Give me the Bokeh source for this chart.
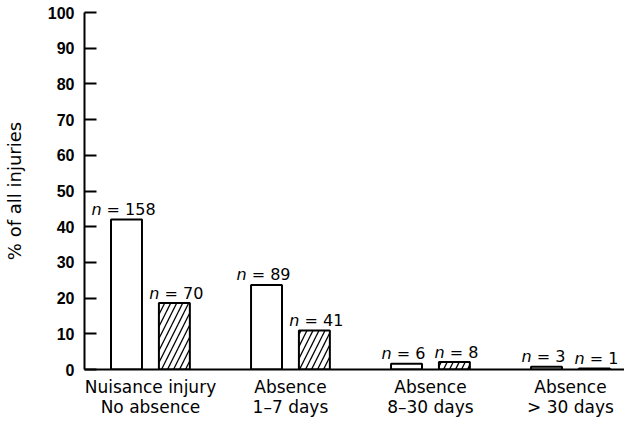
from bokeh.plotting import figure
from bokeh.models import Range1d, FixedTicker, ColumnDataSource
from bokeh.core.properties import value
from bokeh.embed import file_html
from bokeh.resources import INLINE

# ---- data ----
categories = ["Nuisance injury\nNo absence", "Absence\n1\u20137 days",
              "Absence\n8\u201330 days", "Absence\n> 30 days"]
pct_white = [42.0, 23.7, 1.6, 0.8]
pct_hatched = [18.6, 10.9, 2.1, 0.3]
n_white = [158, 89, 6, 3]
n_hatched = [70, 41, 8, 1]
y_ticks = [0, 10, 20, 30, 40, 50, 60, 70, 80, 90, 100]

FONT = "DejaVu Sans"
OFF = 0.171
BW = 0.221
LABEL_PX = 16
NB = "\u00a0"

def split_offset(n, shift):
    # screen offset (px) of the point between italic "n" and " = N", so the whole label is centred
    d = len(str(n))
    w = (0.634 + 0.318 + 0.838 + 0.318 + 0.636 * d) * LABEL_PX
    return -w / 2 + 0.634 * LABEL_PX + shift

xs = list(range(len(categories)))

def make_src(sign, pct, ns, shift):
    return ColumnDataSource(dict(
        x=[i + sign * OFF for i in xs], top=pct,
        rest=[NB + "=" + NB + str(v) for v in ns],
        nn=["n"] * len(ns),
        xo=[split_offset(v, shift) for v in ns]))

src_w = make_src(-1, pct_white, n_white, -3)
src_h = make_src(1, pct_hatched, n_hatched, 2)

p = figure(width=624, height=419, output_backend="svg", toolbar_location=None,
           x_range=Range1d(-0.471, 3.386), y_range=Range1d(0, 100),
           min_border_left=84, min_border_right=0, min_border_top=12, min_border_bottom=40)
p.outline_line_color = None
p.xgrid.visible = False
p.ygrid.visible = False
p.background_fill_color = "white"
p.border_fill_color = "white"

p.vbar(x="x", top="top", bottom=0, width=BW, source=src_w,
       fill_color="white", line_color="black", line_width=2)
p.vbar(x="x", top="top", bottom=0, width=BW, source=src_h,
       fill_color="white", line_color="black", line_width=2,
       hatch_pattern="/", hatch_color="black", hatch_scale=12, hatch_weight=1.3)

for src in (src_w, src_h):
    p.text(x="x", y="top", text="nn", source=src, x_offset="xo", y_offset=-10,
           text_align="right", text_baseline="alphabetic",
           text_font=value(FONT), text_font_style="italic",
           text_font_size="%dpx" % LABEL_PX, text_color="black")
    p.text(x="x", y="top", text="rest", source=src, x_offset="xo", y_offset=-10,
           text_align="left", text_baseline="alphabetic",
           text_font=value(FONT), text_font_size="%dpx" % LABEL_PX, text_color="black")

# y axis
ya = p.yaxis[0]
ya.ticker = FixedTicker(ticks=y_ticks)
ya.axis_line_width = 2
ya.axis_line_color = "black"
ya.major_tick_in = 12
ya.major_tick_out = 0
ya.major_tick_line_width = 2
ya.minor_tick_line_color = None
ya.major_label_standoff = 10
ya.major_label_text_font = "Liberation Sans"
ya.major_label_text_font_style = "bold"
ya.major_label_text_font_size = "16px"
ya.major_label_text_color = "black"
ya.axis_label = "% of all injuries"
ya.axis_label_text_font = FONT
ya.axis_label_text_font_style = "normal"
ya.axis_label_text_font_size = "18px"
ya.axis_label_text_color = "black"
ya.axis_label_standoff = 20

# x axis
xa = p.xaxis[0]
xa.ticker = FixedTicker(ticks=xs)
xa.major_label_overrides = {i: c for i, c in zip(xs, categories)}
xa.axis_line_width = 2
xa.axis_line_color = "black"
xa.major_tick_in = 0
xa.major_tick_out = 0
xa.minor_tick_line_color = None
xa.major_label_standoff = 7
xa.major_label_text_font = FONT
xa.major_label_text_font_size = "17px"
xa.major_label_text_line_height = 1.0
xa.major_label_text_color = "black"

open("out.html", "w").write(file_html(p, INLINE))
